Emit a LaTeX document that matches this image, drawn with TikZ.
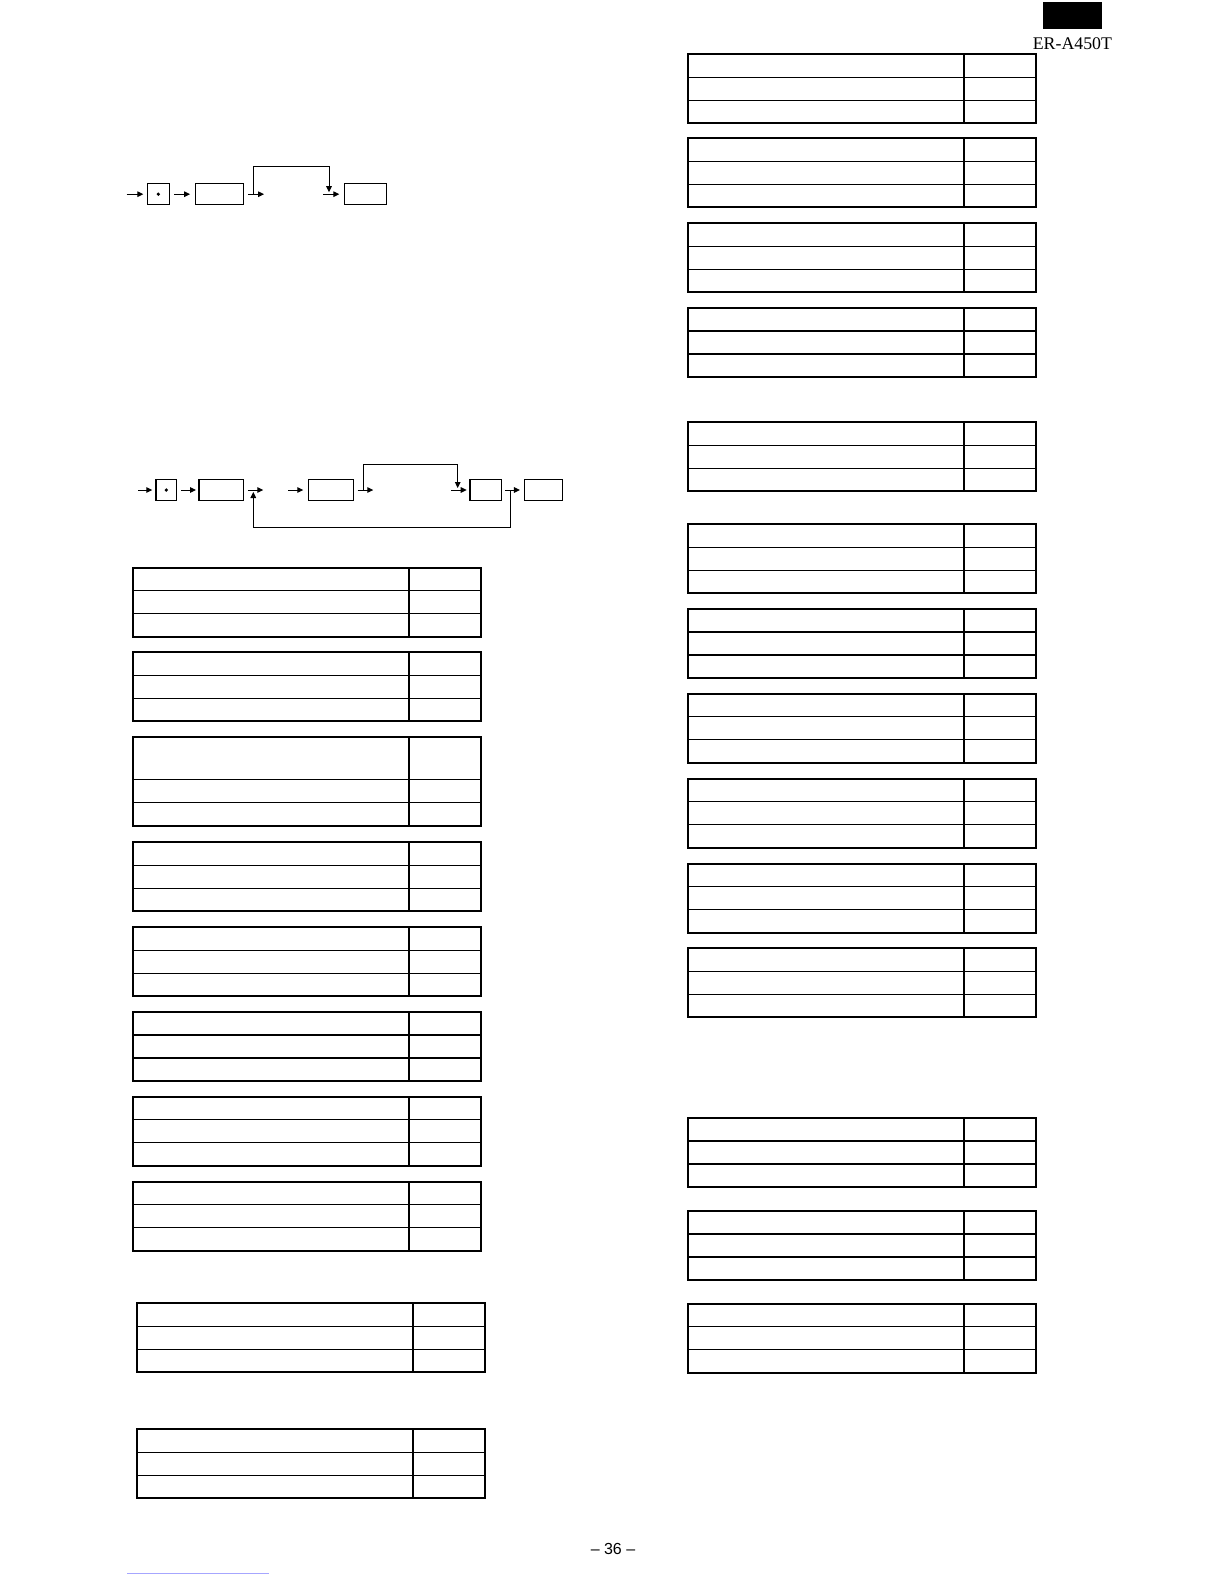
\documentclass[tikz,border=0pt]{standalone}
\usepackage{fontspec}
\setmainfont{Liberation Serif}
\newfontfamily\pagefont{Liberation Sans}
\usetikzlibrary{arrows.meta}

\begin{document}
\begin{tikzpicture}[x=0.5pt,y=-0.5pt,
  flow/.style={-{Triangle[length=3pt,width=2.8pt]},line width=0.5pt},
  keybox/.style={draw,line width=0.6pt,minimum height=10.5pt,inner sep=0pt,outer sep=0pt},
  outerline/.style={line width=1pt},
  innerline/.style={line width=0.6pt}]
\useasboundingbox (0,0) rectangle (1224,1584);
\fill (1042.7,1.7) rectangle (1101.7,29.3);
\node[inner sep=0pt,font=\fontsize{8.9}{10}\selectfont] (model) at (1072.4,43.5) {ER-A450T};

\coordinate (s1) at (126.7,194.2);
\node[keybox,minimum width=11pt] (dot1) at (158.3,194.2) {};
\fill (dot1.center) circle (0.9pt);
\node[keybox,minimum width=23.8pt] (key1) at (219.5,194.2) {};
\node[keybox,minimum width=21.2pt] (key2) at (365.5,194.2) {};
\coordinate (t1) at (264,194.2);
\coordinate (u1) at (323.3,194.2);
\coordinate (j1) at (253.3,194.2);
\coordinate (k1) at (329,194.2);
\draw[flow,shorten >=2pt] (s1) -- (dot1);
\draw[flow,shorten <=2.4pt,shorten >=2.8pt] (dot1) -- (key1);
\draw[flow,shorten <=2.5pt] (key1) -- (t1);
\draw[flow,shorten >=1pt] (j1) -- ++(0,-28.2) -| (k1);
\draw[flow,shorten >=2.5pt] (u1) -- (key2);

\coordinate (s2) at (138.3,490);
\node[keybox,minimum width=10.4pt] (dot2) at (166.3,490) {};
\fill (dot2.center) circle (0.9pt);
\node[keybox,minimum width=22.2pt] (key3) at (221.2,490) {};
\node[keybox,minimum width=22.5pt] (key4) at (330.8,490) {};
\node[keybox,minimum width=15.9pt] (key5) at (485.8,490) {};
\node[keybox,minimum width=19.2pt] (key6) at (543.5,490) {};
\coordinate (t2) at (263.3,490);
\coordinate (u2) at (288.3,490);
\coordinate (t3) at (373.3,490);
\coordinate (u3) at (451,490);
\coordinate (j2) at (510,490);
\coordinate (k2) at (253.3,490);
\coordinate (j3) at (363.3,490);
\coordinate (k3) at (457.7,490);
\draw[flow,shorten >=1.8pt] (s2) -- (dot2);
\draw[flow,shorten <=2.2pt,shorten >=1.5pt] (dot2) -- (key3);
\draw[flow,shorten <=2.2pt] (key3) -- (t2);
\draw[flow,shorten >=1pt] (j2) -- ++(0,37.7) -| (k2);
\draw[flow,shorten >=2.5pt] (u2) -- (key4);
\draw[flow,shorten <=2.2pt] (key4) -- (t3);
\draw[flow,shorten >=1pt] (j3) -- ++(0,-25.7) -| (k3);
\draw[flow,shorten >=1.6pt] (u3) -- (key5);
\draw[flow,shorten <=1.7pt,shorten >=2.2pt] (key5) -- (key6);

\foreach \x/\t/\h in {133/567.7/23, 133/652.4/23, 133/737.2/42.4, 133/842.3/23, 133/927.1/23,
  133/1011.9/23, 133/1096.8/23, 133/1181.6/23, 137/1303.3/23, 137/1429.3/23,
  688/54.3/23, 688/138.4/23, 688/223.2/23, 688/308/23, 688/422.1/23, 688/524.1/23,
  688/609/23, 688/693.8/23, 688/778.6/23, 688/863.5/23, 688/948.3/23,
  688/1118/23, 688/1210.9/23, 688/1303.8/23} {
  \draw[innerline] (\x+276,\t) -- (\x+276,\t+\h+46);
  \draw[innerline] (\x,\t+\h) -- (\x+348,\t+\h);
  \draw[innerline] (\x,\t+\h+23) -- (\x+348,\t+\h+23);
  \draw[outerline] (\x,\t) rectangle (\x+348,\t+\h+46);
}

\node[inner sep=0pt,font=\pagefont\fontsize{8}{10}\selectfont] (pagenum) at (613,1549) {– 36 –};
\draw[blue!35,line width=0.5pt] (127,1573) -- (269,1573);
\end{tikzpicture}
\end{document}
